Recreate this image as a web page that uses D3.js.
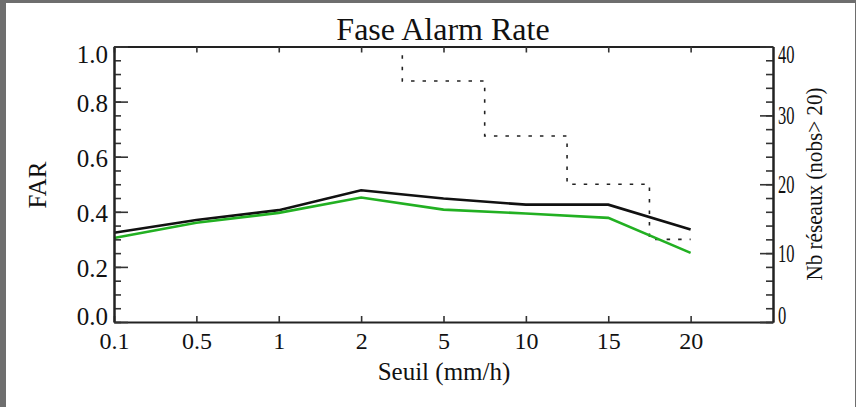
<!DOCTYPE html>
<html>
<head>
<meta charset="utf-8">
<script src="https://cdn.jsdelivr.net/npm/d3@7"></script>
<style>
  html, body { margin: 0; padding: 0; background: #6e6e6e; }
  svg { display: block; }
  text { font-family: "Liberation Serif", "Times New Roman", serif; fill: #111; }
</style>
</head>
<body>
<svg id="chart" width="856" height="407"></svg>
<script>
// Threshold categories (mm/h) along the x axis
const categories = ["0.1", "0.5", "1", "2", "5", "10", "15", "20"];

// False alarm rate per threshold, two series
const farBlack = [0.324, 0.370, 0.406, 0.478, 0.448, 0.426, 0.426, 0.336];
const farGreen = [0.305, 0.360, 0.396, 0.452, 0.408, 0.394, 0.378, 0.251];

// Number of networks with nobs > 20 per threshold (right axis, step line)
const networkCounts = [62, 55, 48, 43, 35, 27, 20, 12];

// Tick values
const farTicks = [0, 0.2, 0.4, 0.6, 0.8, 1.0];
const farMinorTicks = d3.range(0, 1.0001, 0.05);
const countTicks = [0, 10, 20, 30, 40];
const countMinorTicks = d3.range(0, 40.001, 2);

const svg = d3.select("#chart");

// White panel over the grey page background
svg.append("rect").attr("x", 6).attr("y", 3).attr("width", 849).attr("height", 404).attr("fill", "#ffffff");

const plot = { left: 114, right: 773, top: 46.5, bottom: 322 };

const x = d3.scaleLinear().domain([0, categories.length]).range([plot.left, plot.right]);
const yFar = d3.scaleLinear().domain([0, 1]).range([plot.bottom, plot.top]);
const yCount = d3.scaleLinear().domain([0, 40]).range([plot.bottom, plot.top]);

svg.append("clipPath").attr("id", "plotClip")
  .append("rect")
  .attr("x", plot.left).attr("y", plot.top)
  .attr("width", plot.right - plot.left).attr("height", plot.bottom - plot.top);

const idx = d3.range(categories.length);

// Step line for the network counts
const stepLine = d3.line().x((d, i) => x(i)).y(d => yCount(d)).curve(d3.curveStep);
svg.append("path")
  .datum(networkCounts)
  .attr("clip-path", "url(#plotClip)")
  .attr("d", stepLine)
  .attr("fill", "none")
  .attr("stroke", "#222")
  .attr("stroke-width", 1.6)
  .attr("stroke-dasharray", "3.5,8");

// FAR lines
const farLine = d3.line().x((d, i) => x(i)).y(d => yFar(d));
svg.append("path").datum(farBlack).attr("d", farLine)
  .attr("fill", "none").attr("stroke", "#111").attr("stroke-width", 2.6);
svg.append("path").datum(farGreen).attr("d", farLine)
  .attr("fill", "none").attr("stroke", "#22b022").attr("stroke-width", 2.6);

function styleAxis(g) {
  g.select(".domain").attr("stroke", "#222").attr("stroke-width", 2);
  g.selectAll(".tick line").attr("stroke", "#333").attr("stroke-width", 1.6);
  g.selectAll(".tick text").style("font-family", "'Liberation Serif', serif").attr("fill", "#111");
}

// Bottom axis with category labels
const xAxis = svg.append("g").attr("transform", `translate(0,${plot.bottom})`)
  .call(d3.axisBottom(x).tickValues(idx).tickFormat(i => categories[i])
    .tickSizeInner(-6).tickSizeOuter(0).tickPadding(10));
styleAxis(xAxis);
xAxis.selectAll(".tick text").style("font-size", "24px");

// Top axis, ticks only
const xTop = svg.append("g").attr("transform", `translate(0,${plot.top})`)
  .call(d3.axisTop(x).tickValues(idx).tickFormat("").tickSizeInner(-6).tickSizeOuter(0));
styleAxis(xTop);

// Left axis: minor then major ticks with labels
const yMinor = svg.append("g").attr("transform", `translate(${plot.left},0)`)
  .call(d3.axisLeft(yFar).tickValues(farMinorTicks).tickFormat("").tickSizeInner(-7).tickSizeOuter(0));
styleAxis(yMinor);
const yMajor = svg.append("g").attr("transform", `translate(${plot.left},0)`)
  .call(d3.axisLeft(yFar).tickValues(farTicks).tickFormat(d3.format(".1f"))
    .tickSizeInner(-14).tickSizeOuter(0).tickPadding(6));
styleAxis(yMajor);
yMajor.selectAll(".tick text").style("font-size", "25px")
  .attr("dy", d => d === 1 ? "0.62em" : d === 0 ? "0.1em" : "0.38em");

// Right axis: minor then major ticks with labels
const rMinor = svg.append("g").attr("transform", `translate(${plot.right},0)`)
  .call(d3.axisRight(yCount).tickValues(countMinorTicks).tickFormat("").tickSizeInner(-7).tickSizeOuter(0));
styleAxis(rMinor);
const rMajor = svg.append("g").attr("transform", `translate(${plot.right},0)`)
  .call(d3.axisRight(yCount).tickValues(countTicks).tickFormat(d3.format("d"))
    .tickSizeInner(-13).tickSizeOuter(0).tickPadding(0));
styleAxis(rMajor);
rMajor.selectAll(".tick text")
  .style("font-size", "25px")
  .attr("x", 0)
  .attr("dy", null)
  .attr("transform", d => `translate(5,${d === 40 ? 16 : d === 0 ? 1 : 8}) scale(0.66,1)`);

// Title and axis titles
svg.append("text").attr("x", 443).attr("y", 40).attr("text-anchor", "middle")
  .style("font-size", "32px").text("Fase Alarm Rate");

svg.append("text").attr("x", 444).attr("y", 380).attr("text-anchor", "middle")
  .style("font-size", "25px").text("Seuil (mm/h)");

svg.append("text").attr("transform", "translate(46,185) rotate(-90)").attr("text-anchor", "middle")
  .style("font-size", "25px").text("FAR");

svg.append("text").attr("transform", "translate(822,184) rotate(-90)").attr("text-anchor", "middle")
  .style("font-size", "24px").attr("textLength", 193).attr("lengthAdjust", "spacingAndGlyphs")
  .text("Nb réseaux (nobs> 20)");
</script>
</body>
</html>
